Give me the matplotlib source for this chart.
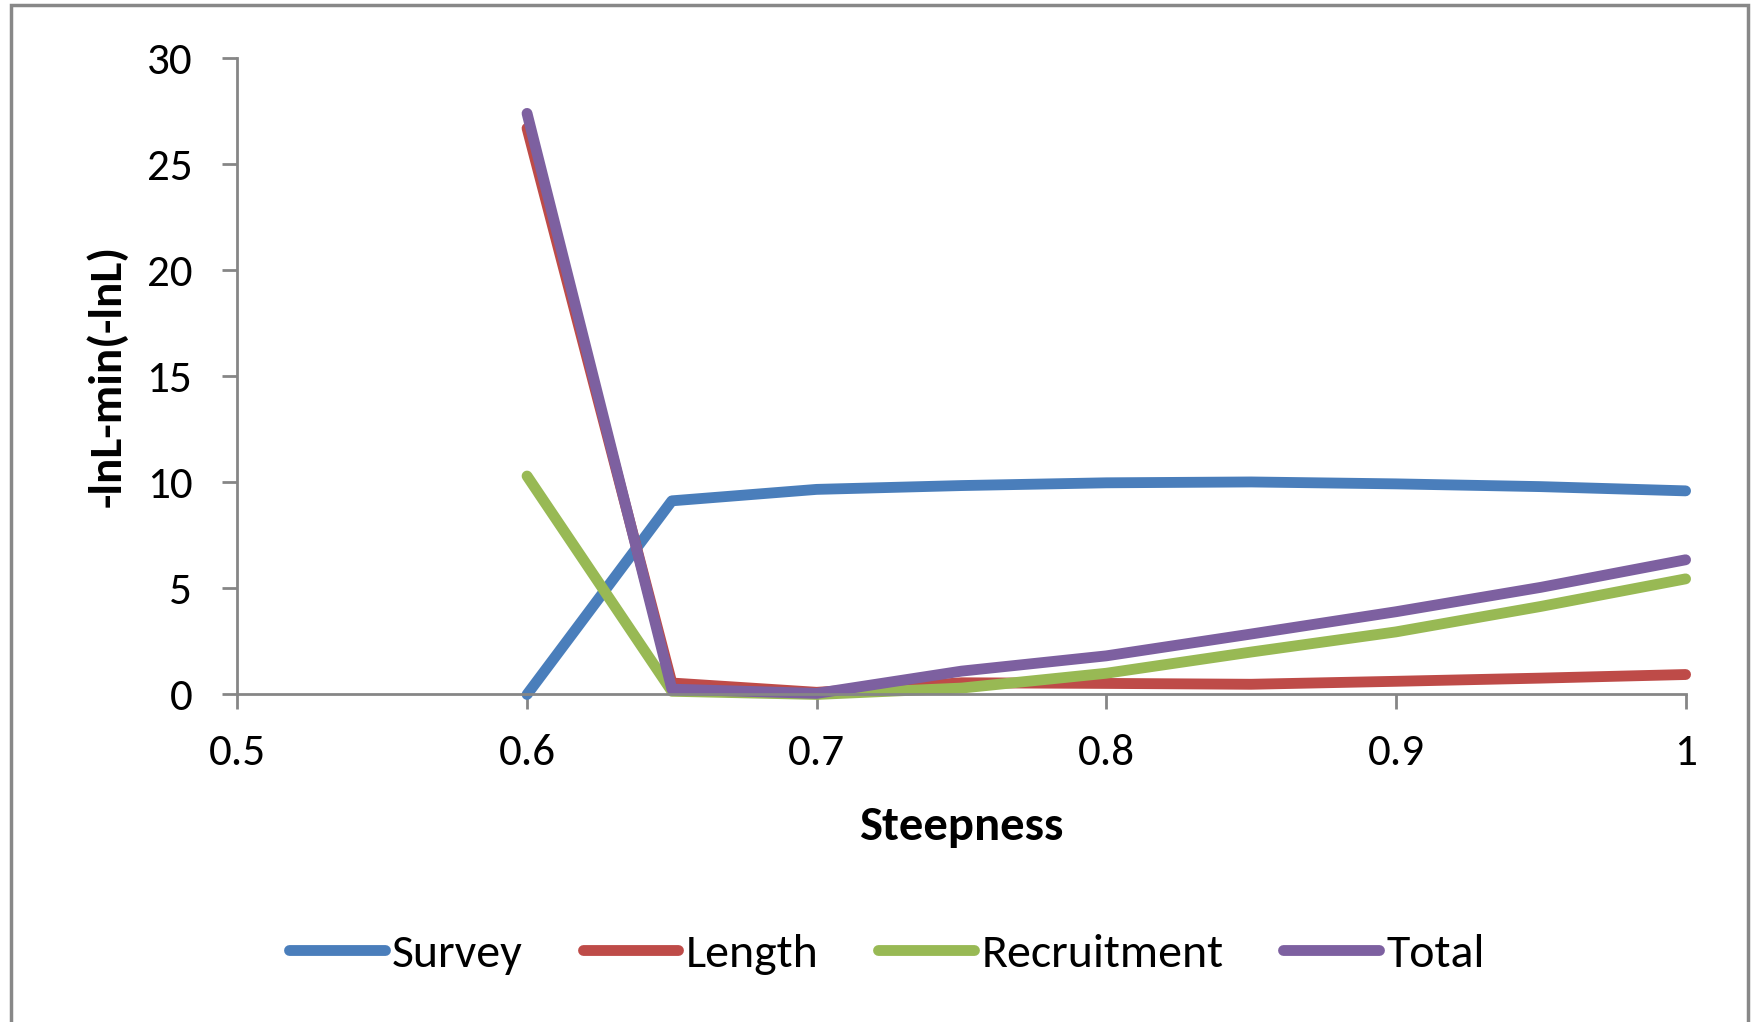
import matplotlib
matplotlib.use("Agg")
import matplotlib.pyplot as plt
from matplotlib.patches import Rectangle

# Likelihood profile over steepness
steepness = [0.6, 0.65, 0.7, 0.75, 0.8, 0.85, 0.9, 0.95, 1.0]
survey = [0.0, 9.13, 9.67, 9.85, 9.98, 10.02, 9.93, 9.8, 9.6]
length = [26.7, 0.54, 0.1, 0.55, 0.52, 0.48, 0.62, 0.77, 0.94]
recruitment = [10.3, 0.15, 0.0, 0.3, 1.0, 2.0, 2.95, 4.15, 5.45]
total = [27.4, 0.25, 0.05, 1.1, 1.82, 2.85, 3.9, 5.05, 6.35]

series_names = ["Survey", "Length", "Recruitment", "Total"]
series_values = [survey, length, recruitment, total]
series_colors = ["#4A7EBB", "#BE4B48", "#98B954", "#7D60A0"]

x_ticks = [0.5, 0.6, 0.7, 0.8, 0.9, 1.0]
x_ticklabels = ["0.5", "0.6", "0.7", "0.8", "0.9", "1"]
y_ticks = [0, 5, 10, 15, 20, 25, 30]

font = ["Carlito", "DejaVu Sans"]
plt.rcParams["font.family"] = font
axis_gray = "#868686"
line_w = 7.8

fig = plt.figure(figsize=(17.56, 10.22), dpi=100)
ax = fig.add_axes([0.1352, 0.3205, 0.8247, 0.6225])

for name, vals, col in zip(series_names, series_values, series_colors):
    ax.plot(steepness, vals, color=col, lw=line_w, solid_capstyle="round",
            solid_joinstyle="round", label=name, clip_on=False)

ax.set_xlim(0.5, 1.0)
ax.set_ylim(0, 30)
ax.set_xticks(x_ticks)
ax.set_xticklabels(x_ticklabels, fontsize=32.5)
ax.set_yticks(y_ticks)
ax.set_yticklabels([str(v) for v in y_ticks], fontsize=32.5)

for side in ("top", "right"):
    ax.spines[side].set_visible(False)
for side in ("left", "bottom"):
    ax.spines[side].set_color(axis_gray)
    ax.spines[side].set_linewidth(2.0)
ax.tick_params(axis="both", direction="out", length=10.5, width=2.0,
               color=axis_gray)
ax.tick_params(axis="x", pad=18)
ax.tick_params(axis="y", pad=22)

ax.set_xlabel("Steepness", fontsize=35, fontweight="bold")
ax.set_ylabel("-lnL-min(-lnL)", fontsize=34, fontweight="bold")
ax.xaxis.set_label_coords(0.5, -0.208)
ax.yaxis.set_label_coords(-0.0905, 0.5)
ax.xaxis.label.set_va("center")
ax.yaxis.label.set_va("center")

leg = fig.legend(loc="center", bbox_to_anchor=(0.505, 1 - 954 / 1022), ncol=4,
                 frameon=False, prop={"family": font, "size": 34.5},
                 handlelength=2.0, handletextpad=0.15, columnspacing=1.25)
for line in leg.get_lines():
    line.set_linewidth(line_w)
    line.set_solid_capstyle("round")

# Outer chart frame
fig.patches.append(Rectangle((11 / 1756, -0.05), (1748 - 11) / 1756,
                             1 - 5 / 1022 + 0.05, transform=fig.transFigure,
                             fill=False, edgecolor="#888888", linewidth=2.5))

fig.savefig("out.png", dpi=100, facecolor="white")
